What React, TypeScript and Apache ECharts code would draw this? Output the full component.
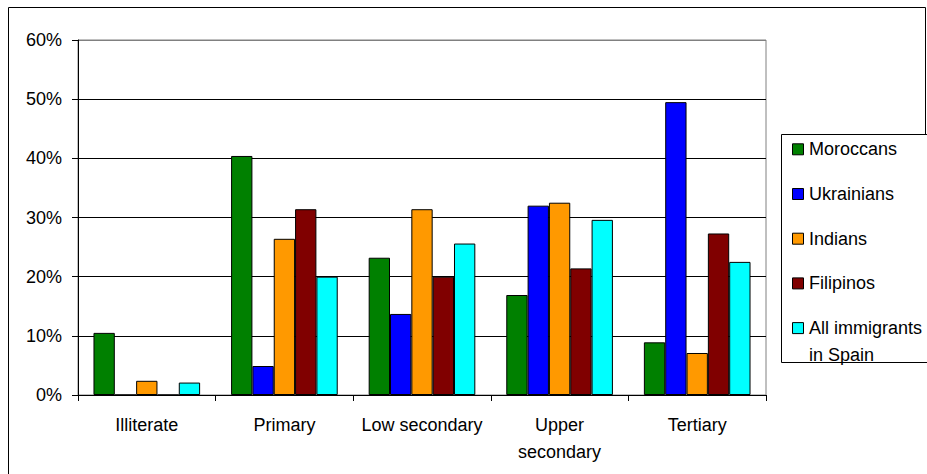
import React, { useEffect, useRef } from "react";
import * as echarts from "echarts";

const categories = ["Illiterate", "Primary", "Low secondary", "Upper\nsecondary", "Tertiary"];
const seriesNames = ["Moroccans", "Ukrainians", "Indians", "Filipinos", "All immigrants\nin Spain"];
const moroccans = [10.5, 40.4, 23.2, 16.9, 8.9];
const ukrainians = [0, 4.9, 13.7, 32.0, 49.5];
const indians = [2.4, 26.4, 31.4, 32.5, 7.1];
const filipinos = [0, 31.4, 20.0, 21.4, 27.3];
const allImmigrants = [2.1, 20.0, 25.6, 29.6, 22.5];
const colors = ["#008000", "#0000FF", "#FF9900", "#800000", "#00FFFF"];

const FONT = "'Liberation Sans', Arial, sans-serif";

export default function App() {
  const ref = useRef<HTMLDivElement>(null);
  useEffect(() => {
    if (!ref.current) return;
    const chart = echarts.init(ref.current, null, { renderer: "svg" });
    const values = [moroccans, ukrainians, indians, filipinos, allImmigrants];
    const series = values.map((d, i) => ({
      name: seriesNames[i],
      type: "bar",
      data: d,
      barGap: "0%",
      barCategoryGap: "22.5%",
      itemStyle: { color: colors[i], borderColor: "#000", borderWidth: 1 },
    }));
    const legendTop = 127;
    const legendItems: any[] = [];
    seriesNames.forEach((n, i) => {
      const cy = 142.3 + i * 44.7;
      legendItems.push({
        type: "rect",
        shape: { x: 784.5, y: cy - 5.5, width: 11, height: 11 },
        style: { fill: colors[i], stroke: "#000", lineWidth: 1 },
      });
      legendItems.push({
        type: "text",
        x: 801,
        y: cy - 13.5,
        style: {
          text: n,
          fill: "#000",
          fontSize: 18,
          fontFamily: FONT,
          lineHeight: 27,
          verticalAlign: "top",
          align: "left",
        },
      });
    });
    chart.setOption({
      animation: false,
      backgroundColor: "#fff",
      textStyle: { fontFamily: FONT },
      grid: {
        left: 70,
        top: 33,
        right: 161,
        bottom: 79,
        show: true,
        borderColor: "#808080",
        borderWidth: 1,
        backgroundColor: "transparent",
      },
      xAxis: {
        type: "category",
        data: categories,
        axisLine: { show: true, lineStyle: { color: "#000", width: 1 } },
        axisTick: { show: true, length: 6, lineStyle: { color: "#000" } },
        axisLabel: {
          color: "#000",
          fontSize: 18,
          fontFamily: FONT,
          margin: 16,
          lineHeight: 27,
          interval: 0,
        },
        splitLine: { show: false },
      },
      yAxis: {
        type: "value",
        min: 0,
        max: 60,
        interval: 10,
        axisLine: { show: true, lineStyle: { color: "#000", width: 1 } },
        axisTick: { show: true, length: 6, lineStyle: { color: "#000" } },
        axisLabel: {
          color: "#000",
          fontSize: 18,
          fontFamily: FONT,
          margin: 16,
          formatter: "{value}%",
        },
        splitLine: {
          show: true,
          lineStyle: {
            color: ["#000", "#000", "#000", "#000", "#000", "#000", "#808080"],
            width: 1,
          },
        },
      },
      legend: { show: false },
      series,
      graphic: [
        {
          type: "polyline",
          shape: {
            points: [
              [917.5, legendTop],
              [917.5, 0.5],
              [0.5, 0.5],
              [0.5, 480],
            ],
          },
          style: { stroke: "#000", lineWidth: 1, fill: "none" },
        },
        {
          type: "rect",
          shape: { x: 773.5, y: legendTop + 0.5, width: 170, height: 228 },
          style: { fill: "#fff", stroke: "#000", lineWidth: 1 },
        },
        ...legendItems,
      ],
    });
    return () => chart.dispose();
  }, []);
  return (
    <div
      ref={ref}
      style={{ position: "absolute", left: 8, top: 7, width: 919, height: 467 }}
    />
  );
}
